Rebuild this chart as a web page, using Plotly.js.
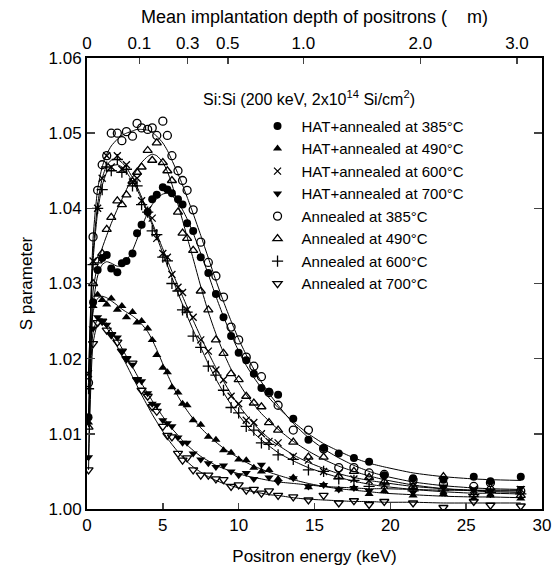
<!DOCTYPE html>
<html>
<head>
<meta charset="utf-8">
<script src="https://cdn.plot.ly/plotly-3.0.1.min.js"></script>
<style>html,body{margin:0;padding:0;background:#fff;}#chart{width:559px;height:566px;}</style>
</head>
<body>
<div id="chart"></div>
<script>
// Positron energy grid (keV)
const energy = [0.1, 0.4, 0.7, 1.0, 1.3, 1.6, 2.0, 2.3, 2.6, 3.0, 3.3, 3.6, 4.0, 4.3, 4.6, 5.0, 5.3, 5.6, 6.0, 6.3, 6.6, 7.0, 7.5, 8.0, 8.5, 9.0, 9.5, 10.0, 10.5, 11.0, 11.5, 12.0, 12.6, 13.6, 14.6, 15.6, 16.6, 17.6, 18.6, 19.6, 21.5, 23.5, 25.5, 26.6, 28.6];

// Measured S parameter
const hat385 = [1.0122, 1.0275, 1.0318, 1.0334, 1.0338, 1.0320, 1.0315, 1.0327, 1.0330, 1.0340, 1.0367, 1.0378, 1.0395, 1.0412, 1.0418, 1.0428, 1.0425, 1.0420, 1.0412, 1.0405, 1.0380, 1.0370, 1.0335, 1.0314, 1.0286, 1.0255, 1.0230, 1.0208, 1.0198, 1.0180, 1.0161, 1.0156, 1.0152, 1.0120, 1.0092, 1.0081, 1.0074, 1.0068, 1.0063, 1.0045, 1.0041, 1.0039, 1.0043, 1.0037, 1.0043];
const hat490 = [1.0115, 1.0270, 1.0285, 1.0278, 1.0272, 1.0280, 1.0265, 1.0270, 1.0255, 1.0262, 1.0248, 1.0250, 1.0240, 1.0225, 1.0205, 1.0188, 1.0182, 1.0162, 1.0155, 1.0140, 1.0138, 1.0118, 1.0112, 1.0096, 1.0092, 1.0078, 1.0075, 1.0066, 1.0065, 1.0055, 1.0050, 1.0052, 1.0040, 1.0042, 1.0029, 1.0032, 1.0026, 1.0028, 1.0020, 1.0024, 1.0018, 1.0020, 1.0014, 1.0018, 1.0014];
const hat600 = [1.0180, 1.0330, 1.0400, 1.0440, 1.0470, 1.0455, 1.0470, 1.0452, 1.0458, 1.0435, 1.0440, 1.0410, 1.0398, 1.0387, 1.0360, 1.0340, 1.0335, 1.0312, 1.0295, 1.0288, 1.0265, 1.0255, 1.0225, 1.0210, 1.0185, 1.0172, 1.0150, 1.0140, 1.0118, 1.0115, 1.0100, 1.0090, 1.0088, 1.0070, 1.0065, 1.0050, 1.0048, 1.0040, 1.0038, 1.0032, 1.0030, 1.0025, 1.0026, 1.0022, 1.0026];
const hat700 = [1.0069, 1.0240, 1.0255, 1.0250, 1.0245, 1.0232, 1.0228, 1.0210, 1.0200, 1.0192, 1.0172, 1.0170, 1.0154, 1.0140, 1.0138, 1.0118, 1.0114, 1.0110, 1.0095, 1.0088, 1.0088, 1.0074, 1.0066, 1.0061, 1.0056, 1.0058, 1.0050, 1.0045, 1.0048, 1.0040, 1.0059, 1.0042, 1.0036, 1.0041, 1.0030, 1.0032, 1.0026, 1.0028, 1.0024, 1.0043, 1.0022, 1.0030, 1.0026, 1.0024, 1.0028];
const ann385 = [1.0168, 1.0362, 1.0424, 1.0458, 1.0470, 1.0500, 1.0500, 1.0490, 1.0502, 1.0496, 1.0513, 1.0507, 1.0505, 1.0507, 1.0497, 1.0516, 1.0497, 1.0470, 1.0450, 1.0437, 1.0424, 1.0398, 1.0355, 1.0328, 1.0310, 1.0282, 1.0242, 1.0225, 1.0202, 1.0190, 1.0176, 1.0155, 1.0138, 1.0105, 1.0105, 1.0080, 1.0055, 1.0055, 1.0048, 1.0046, 1.0039, 1.0033, 1.0030, 1.0035, 1.0024];
const ann490 = [1.0109, 1.0300, 1.0330, 1.0340, 1.0372, 1.0388, 1.0410, 1.0405, 1.0418, 1.0436, 1.0448, 1.0455, 1.0477, 1.0464, 1.0487, 1.0461, 1.0450, 1.0437, 1.0395, 1.0367, 1.0360, 1.0344, 1.0290, 1.0265, 1.0225, 1.0207, 1.0180, 1.0172, 1.0150, 1.0141, 1.0136, 1.0115, 1.0105, 1.0089, 1.0069, 1.0069, 1.0043, 1.0050, 1.0042, 1.0036, 1.0030, 1.0043, 1.0019, 1.0028, 1.0018];
const ann600 = [1.0160, 1.0325, 1.0400, 1.0425, 1.0455, 1.0450, 1.0465, 1.0448, 1.0452, 1.0430, 1.0430, 1.0405, 1.0395, 1.0370, 1.0365, 1.0335, 1.0330, 1.0300, 1.0290, 1.0265, 1.0262, 1.0230, 1.0215, 1.0190, 1.0178, 1.0158, 1.0135, 1.0128, 1.0110, 1.0105, 1.0088, 1.0086, 1.0072, 1.0066, 1.0052, 1.0050, 1.0040, 1.0038, 1.0030, 1.0032, 1.0024, 1.0025, 1.0019, 1.0022, 1.0020];
const ann700 = [1.0052, 1.0220, 1.0248, 1.0250, 1.0238, 1.0232, 1.0222, 1.0210, 1.0200, 1.0194, 1.0172, 1.0158, 1.0150, 1.0136, 1.0130, 1.0110, 1.0098, 1.0096, 1.0074, 1.0065, 1.0068, 1.0052, 1.0045, 1.0045, 1.0040, 1.0039, 1.0030, 1.0032, 1.0025, 1.0026, 1.0021, 1.0024, 1.0018, 1.0016, 1.0012, 1.0018, 1.0008, 1.0011, 1.0006, 1.0010, 1.0008, 1.0002, 1.0010, 1.0005, 1.0004];

// Fitted curves (same energy grid)
const fitHat385 = [1.0122, 1.0270, 1.0310, 1.0325, 1.0329, 1.0327, 1.0323, 1.0324, 1.0330, 1.0344, 1.0359, 1.0375, 1.0394, 1.0405, 1.0413, 1.0419, 1.0420, 1.0417, 1.0408, 1.0398, 1.0386, 1.0367, 1.0340, 1.0312, 1.0283, 1.0256, 1.0232, 1.0210, 1.0191, 1.0175, 1.0161, 1.0148, 1.0135, 1.0116, 1.0100, 1.0087, 1.0077, 1.0068, 1.0061, 1.0056, 1.0048, 1.0043, 1.0040, 1.0039, 1.0038];
const fitHat490 = [1.0115, 1.0262, 1.0280, 1.0283, 1.0281, 1.0277, 1.0271, 1.0266, 1.0262, 1.0257, 1.0252, 1.0246, 1.0236, 1.0225, 1.0212, 1.0193, 1.0179, 1.0166, 1.0150, 1.0140, 1.0131, 1.0120, 1.0108, 1.0098, 1.0089, 1.0081, 1.0074, 1.0068, 1.0062, 1.0057, 1.0053, 1.0049, 1.0045, 1.0039, 1.0034, 1.0030, 1.0027, 1.0025, 1.0023, 1.0021, 1.0019, 1.0017, 1.0016, 1.0016, 1.0015];
const fitHat600 = [1.0180, 1.0340, 1.0405, 1.0440, 1.0457, 1.0464, 1.0465, 1.0461, 1.0454, 1.0441, 1.0429, 1.0415, 1.0396, 1.0381, 1.0366, 1.0346, 1.0331, 1.0316, 1.0297, 1.0283, 1.0269, 1.0251, 1.0229, 1.0208, 1.0188, 1.0170, 1.0153, 1.0138, 1.0125, 1.0113, 1.0103, 1.0094, 1.0085, 1.0072, 1.0062, 1.0054, 1.0047, 1.0042, 1.0038, 1.0035, 1.0030, 1.0027, 1.0025, 1.0024, 1.0024];
const fitHat700 = [1.0069, 1.0235, 1.0252, 1.0253, 1.0247, 1.0238, 1.0225, 1.0214, 1.0203, 1.0189, 1.0178, 1.0167, 1.0154, 1.0144, 1.0135, 1.0123, 1.0115, 1.0107, 1.0098, 1.0091, 1.0085, 1.0078, 1.0070, 1.0064, 1.0058, 1.0054, 1.0050, 1.0047, 1.0044, 1.0042, 1.0040, 1.0038, 1.0036, 1.0034, 1.0032, 1.0030, 1.0029, 1.0028, 1.0027, 1.0027, 1.0026, 1.0025, 1.0025, 1.0025, 1.0025];
const fitAnn385 = [1.0168, 1.0360, 1.0425, 1.0455, 1.0472, 1.0483, 1.0492, 1.0497, 1.0500, 1.0503, 1.0505, 1.0505, 1.0504, 1.0501, 1.0496, 1.0487, 1.0477, 1.0464, 1.0446, 1.0431, 1.0415, 1.0393, 1.0364, 1.0334, 1.0304, 1.0276, 1.0250, 1.0226, 1.0205, 1.0186, 1.0169, 1.0154, 1.0138, 1.0114, 1.0095, 1.0080, 1.0068, 1.0058, 1.0050, 1.0044, 1.0036, 1.0031, 1.0028, 1.0027, 1.0026];
const fitAnn490 = [1.0109, 1.0290, 1.0325, 1.0347, 1.0364, 1.0380, 1.0399, 1.0412, 1.0425, 1.0441, 1.0452, 1.0461, 1.0469, 1.0472, 1.0470, 1.0461, 1.0449, 1.0432, 1.0405, 1.0384, 1.0362, 1.0333, 1.0296, 1.0262, 1.0233, 1.0208, 1.0186, 1.0168, 1.0152, 1.0139, 1.0127, 1.0117, 1.0106, 1.0090, 1.0077, 1.0066, 1.0057, 1.0050, 1.0044, 1.0039, 1.0032, 1.0027, 1.0024, 1.0023, 1.0022];
const fitAnn600 = [1.0160, 1.0330, 1.0395, 1.0430, 1.0448, 1.0456, 1.0458, 1.0455, 1.0448, 1.0436, 1.0425, 1.0412, 1.0393, 1.0378, 1.0362, 1.0340, 1.0324, 1.0308, 1.0287, 1.0272, 1.0257, 1.0238, 1.0215, 1.0193, 1.0173, 1.0155, 1.0139, 1.0125, 1.0112, 1.0101, 1.0092, 1.0084, 1.0075, 1.0064, 1.0055, 1.0048, 1.0042, 1.0037, 1.0033, 1.0030, 1.0026, 1.0023, 1.0021, 1.0021, 1.0020];
const fitAnn700 = [1.0052, 1.0220, 1.0245, 1.0247, 1.0241, 1.0231, 1.0216, 1.0204, 1.0192, 1.0176, 1.0164, 1.0152, 1.0137, 1.0126, 1.0116, 1.0103, 1.0094, 1.0086, 1.0076, 1.0069, 1.0063, 1.0056, 1.0049, 1.0043, 1.0038, 1.0034, 1.0031, 1.0028, 1.0025, 1.0023, 1.0021, 1.0019, 1.0018, 1.0015, 1.0013, 1.0012, 1.0011, 1.0010, 1.0010, 1.0009, 1.0009, 1.0008, 1.0008, 1.0008, 1.0008];

// Legend labels
const labels = ["HAT+annealed at 385\u00B0C", "HAT+annealed at 490\u00B0C", "HAT+annealed at 600\u00B0C", "HAT+annealed at 700\u00B0C",
                "Annealed at 385\u00B0C", "Annealed at 490\u00B0C", "Annealed at 600\u00B0C", "Annealed at 700\u00B0C"];

// Top axis: mean implantation depth (um) tick positions in keV
const depthTickEnergy = [0, 3.45, 6.64, 9.28, 14.27, 21.98, 28.35];
const depthTickText = ["0", "0.1", "0.3", "0.5", "1.0", "2.0", "3.0"];

const series = [hat385, hat490, hat600, hat700, ann385, ann490, ann600, ann700];
const fits = [fitHat385, fitHat490, fitHat600, fitHat700, fitAnn385, fitAnn490, fitAnn600, fitAnn700];
const symbols = ["circle", "triangle-up", "x-thin-open", "triangle-down", "circle-open", "triangle-up-open", "cross-thin-open", "triangle-down-open"];
const sizes = [8, 8, 7, 8, 8, 8, 8, 8];

const traces = [];
fits.forEach(f => {
  traces.push({x: energy, y: f, mode: "lines", line: {color: "#000", width: 1, shape: "spline", smoothing: 0.6},
               showlegend: false, hoverinfo: "skip"});
});
series.forEach((s, i) => {
  const open = symbols[i].indexOf("open") >= 0;
  traces.push({x: energy, y: s, mode: "markers", name: labels[i],
               marker: {symbol: symbols[i], size: sizes[i], color: "#000",
                        line: {color: "#000", width: open ? 1.3 : 0}}});
});
// invisible trace to anchor top axis
traces.push({x: depthTickEnergy, y: depthTickEnergy.map(() => 1.03), xaxis: "x2", mode: "markers",
             marker: {opacity: 0}, showlegend: false, hoverinfo: "skip"});

const FAM = "Liberation Sans, Arial, sans-serif";
const tickF = {family: FAM, size: 17, color: "#000"};
const titleF = {family: FAM, size: 17, color: "#000"};

const layout = {
  width: 559, height: 566,
  margin: {l: 87, r: 17, t: 58, b: 57},
  paper_bgcolor: "#fff", plot_bgcolor: "#fff",
  font: tickF,
  xaxis: {range: [0, 30], dtick: 5, tick0: 0, ticks: "inside", ticklen: 6, tickwidth: 1.5,
          showline: true, linewidth: 2, linecolor: "#000", showgrid: false, zeroline: false,
          tickfont: tickF, title: {text: "Positron energy (keV)", font: titleF, standoff: 16}},
  xaxis2: {range: [0, 30], overlaying: "x", side: "top", tickmode: "array",
           tickvals: depthTickEnergy, ticktext: depthTickText, ticks: "inside", ticklen: 6, tickwidth: 1.5,
           showline: true, linewidth: 2, linecolor: "#000", showgrid: false, zeroline: false,
           tickfont: tickF,
           title: {text: "Mean implantation depth of positrons (\u00A0\u00A0\u00A0\u00A0m)", font: {family: FAM, size: 18, color: "#000"}, standoff: 6}},
  yaxis: {range: [1.0, 1.06], dtick: 0.01, tick0: 1.0, tickformat: ".2f", ticks: "inside", ticklen: 8, tickwidth: 1.5,
          showline: true, linewidth: 2, linecolor: "#000", mirror: "ticks", showgrid: false, zeroline: false,
          tickfont: tickF, title: {text: "S parameter", font: titleF, standoff: 12}},
  legend: {x: 0.366, y: 0.885, xanchor: "left", yanchor: "top", bgcolor: "rgba(0,0,0,0)",
           font: {family: FAM, size: 15, color: "#000"}, itemwidth: 38},
  annotations: [{xref: "paper", yref: "paper", x: 0.487, y: 0.912, xanchor: "center", yanchor: "middle", showarrow: false,
                 text: "Si:Si (200 keV, 2x10<sup>14</sup> Si/cm<sup>2</sup>)",
                 font: {family: FAM, size: 16, color: "#000"}}]
};

Plotly.newPlot("chart", traces, layout, {staticPlot: true, displayModeBar: false});
</script>
</body>
</html>
